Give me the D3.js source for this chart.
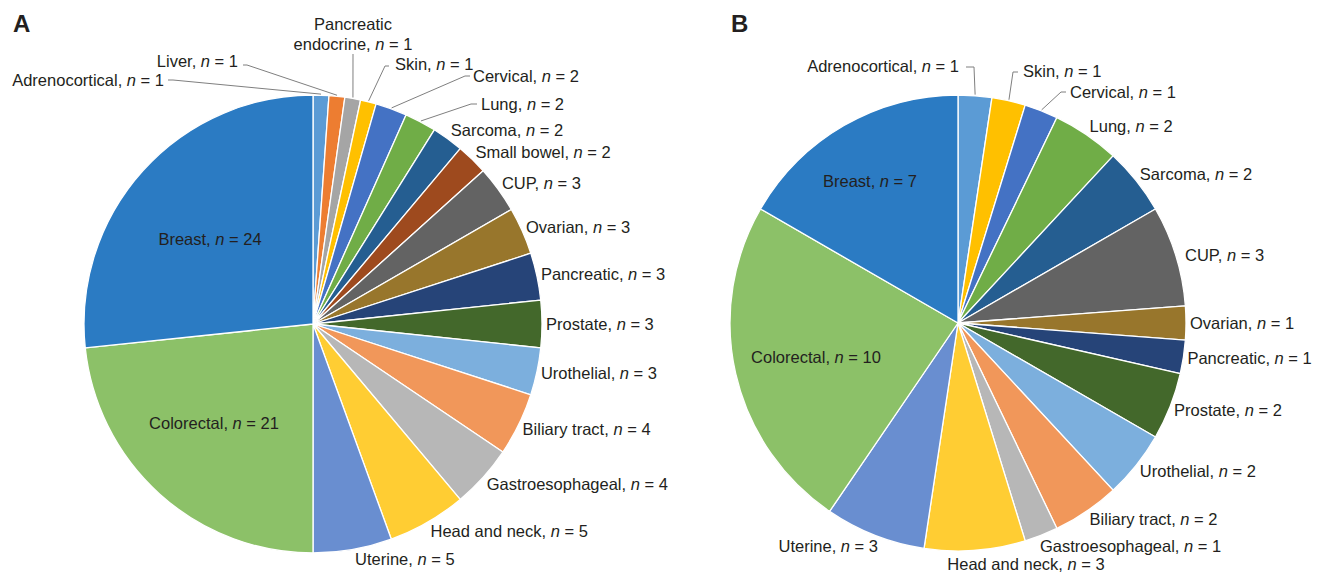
<!DOCTYPE html>
<html>
<head>
<meta charset="utf-8">
<script src="https://cdn.jsdelivr.net/npm/d3@7"></script>
<style>
  html, body { margin: 0; padding: 0; background: #fff; }
  svg { display: block; }
  text { font-family: "Liberation Sans", Arial, Helvetica, sans-serif; fill: #231f20; }
</style>
</head>
<body>
<svg id="chart" width="1328" height="576"></svg>
<script>
// ---------- DATA ----------
const categoriesA = ["Adrenocortical", "Liver", "Pancreatic endocrine", "Skin", "Cervical", "Lung",
  "Sarcoma", "Small bowel", "CUP", "Ovarian", "Pancreatic", "Prostate", "Urothelial",
  "Biliary tract", "Gastroesophageal", "Head and neck", "Uterine", "Colorectal", "Breast"];
const valuesA = [1, 1, 1, 1, 2, 2, 2, 2, 3, 3, 3, 3, 3, 4, 4, 5, 5, 21, 24];

const categoriesB = ["Adrenocortical", "Skin", "Cervical", "Lung", "Sarcoma", "CUP", "Ovarian",
  "Pancreatic", "Prostate", "Urothelial", "Biliary tract", "Gastroesophageal", "Head and neck",
  "Uterine", "Colorectal", "Breast"];
const valuesB = [1, 1, 1, 2, 2, 3, 1, 1, 2, 2, 2, 1, 3, 3, 10, 7];

const panelLabels = ["A", "B"];

// ---------- STYLE ----------
const colorOf = {
  "Adrenocortical": "#5B9BD5", "Liver": "#ED7D31", "Pancreatic endocrine": "#A5A5A5",
  "Skin": "#FFC000", "Cervical": "#4472C4", "Lung": "#70AD47", "Sarcoma": "#255E91",
  "Small bowel": "#9E4A1E", "CUP": "#636363", "Ovarian": "#98762C", "Pancreatic": "#264478",
  "Prostate": "#43682B", "Urothelial": "#7CAFDD", "Biliary tract": "#F1975A",
  "Gastroesophageal": "#B7B7B7", "Head and neck": "#FFCD33", "Uterine": "#698ED0",
  "Colorectal": "#8CC168", "Breast": "#2B7BC3"
};
const FONT = 16.5;

// label layout overrides (positions of text / leader start points)
const layoutA = {
  "Adrenocortical": { x: 164, y: 80, anchor: "end", lead: [[168, 80], [173, 80]] },
  "Liver": { x: 238, y: 61, anchor: "end", lead: [[243, 65], [247, 65]] },
  "Pancreatic endocrine": { x: 353, y: 24, anchor: "middle", lines: ["Pancreatic", "endocrine"], lead: [[353, 54]] },
  "Skin": { x: 395, y: 64, anchor: "start", lead: [[389, 66], [385, 66]] },
  "Cervical": { x: 473, y: 76, anchor: "start", lead: [[470, 76], [465, 76]] },
  "Lung": { x: 481, y: 104, anchor: "start", lead: [[477, 104], [471, 104]] },
  "Breast": { x: 210, y: 239, anchor: "middle" },
  "Colorectal": { x: 214, y: 423, anchor: "middle" }
};
const layoutB = {
  "Adrenocortical": { x: 959, y: 66, anchor: "end", lead: [[966, 67], [974, 67]] },
  "Skin": { x: 1023, y: 71, anchor: "start", lead: [[1018, 72], [1013, 72]] },
  "Cervical": { x: 1070, y: 92, anchor: "start", lead: [[1066, 92], [1061, 92]] },
  "CUP": { x: 1185, y: 255, anchor: "start" },
  "Gastroesophageal": { x: 1040, y: 546, anchor: "start" },
  "Head and neck": { x: 1026, y: 564, anchor: "middle" },
  "Uterine": { x: 878, y: 546, anchor: "end" },
  "Breast": { x: 870, y: 181, anchor: "middle" },
  "Colorectal": { x: 816, y: 357, anchor: "middle" }
};

const svg = d3.select("#chart");

function addLabelText(g, x, y, anchor, name, value, lines) {
  const t = g.append("text")
    .attr("x", x).attr("text-anchor", anchor)
    .style("font-size", FONT + "px");
  if (lines) {
    t.append("tspan").attr("x", x).attr("y", y).attr("dy", "0.35em").text(lines[0]);
    t.append("tspan").attr("x", x).attr("y", y + 20).attr("dy", "0.35em").text(lines[1] + ", ");
    t.append("tspan").style("font-style", "italic").text("n");
    t.append("tspan").text(" = " + value);
  } else {
    t.attr("y", y).attr("dy", "0.35em");
    t.append("tspan").text(name + ", ");
    t.append("tspan").style("font-style", "italic").text("n");
    t.append("tspan").text(" = " + value);
  }
}

function drawPie(cats, vals, cx, cy, r, layout) {
  const data = cats.map((c, i) => ({ name: c, value: vals[i] }));
  const pie = d3.pie().value(d => d.value).sort(null).startAngle(0).endAngle(2 * Math.PI);
  const arcs = pie(data);
  const arc = d3.arc().innerRadius(0).outerRadius(r);
  const g = svg.append("g");
  const pg = g.append("g").attr("transform", `translate(${cx},${cy})`);
  pg.selectAll("path").data(arcs).join("path")
    .attr("d", arc)
    .attr("fill", d => colorOf[d.data.name])
    .attr("stroke", "#fff")
    .attr("stroke-width", 1.3)
    .attr("stroke-linejoin", "round");

  arcs.forEach(a => {
    const name = a.data.name;
    const mid = (a.startAngle + a.endAngle) / 2;
    const s = Math.sin(mid), c = Math.cos(mid);
    const L = layout[name];
    if (L) {
      if (L.lead) {
        const px = cx + (r + 1) * s, py = cy - (r + 1) * c;
        const pts = L.lead.concat([[px, py]]);
        g.append("path")
          .attr("d", d3.line()(pts))
          .attr("fill", "none")
          .attr("stroke", "#7f7f7f")
          .attr("stroke-width", 1);
      }
      addLabelText(g, L.x, L.y, L.anchor, name, a.data.value, L.lines);
    } else {
      const R = r + 2;
      const px = cx + R * s, py = cy - R * c;
      const right = s >= 0;
      const x = right ? px + 2 : px - 2;
      const y = py - c * 8;
      addLabelText(g, x, y, right ? "start" : "end", name, a.data.value);
    }
  });
}

drawPie(categoriesA, valuesA, 313, 324, 229, layoutA);
drawPie(categoriesB, valuesB, 958, 323, 228, layoutB);

// panel letters
svg.selectAll("text.panel").data(panelLabels).join("text")
  .attr("class", "panel")
  .attr("x", (d, i) => i === 0 ? 13 : 731)
  .attr("y", 32)
  .style("font-size", "24px")
  .style("font-weight", "bold")
  .text(d => d);
</script>
</body>
</html>
